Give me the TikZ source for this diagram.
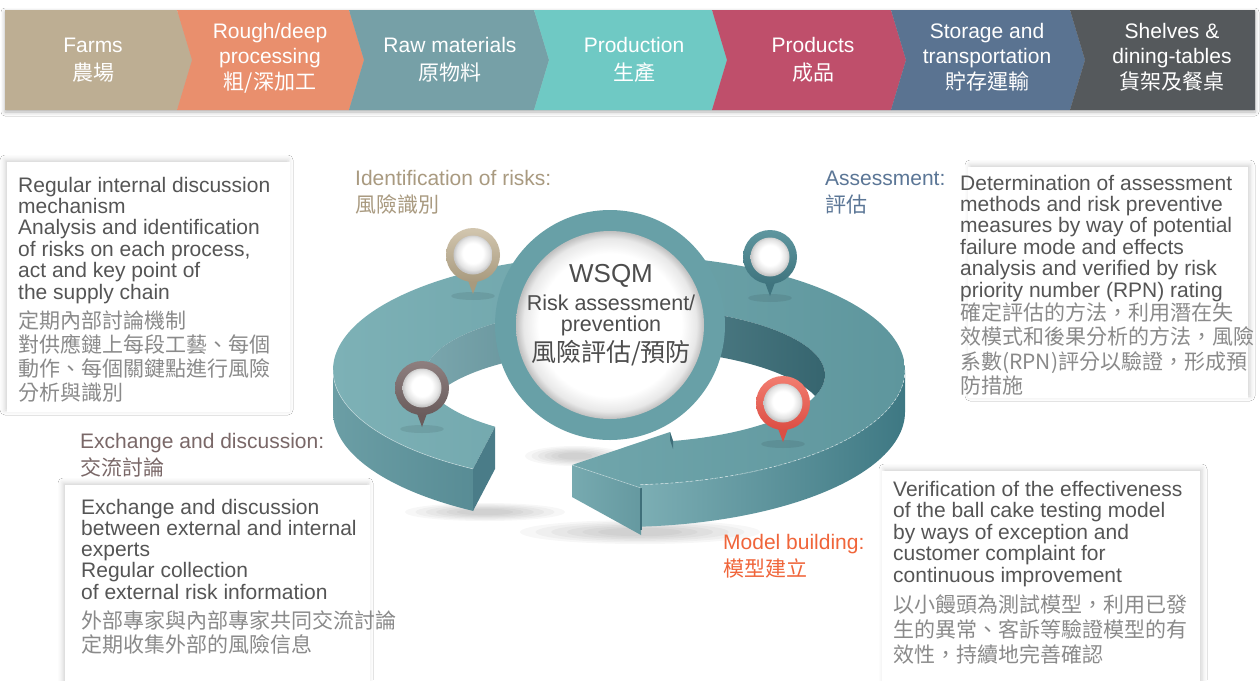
\documentclass[tikz,border=0pt]{standalone}
\usepackage{fontspec}
\setmainfont{Liberation Sans}
\newfontfamily\cjk{Noto Sans CJK TC}
\usetikzlibrary{shadows.blur}
\definecolor{cFarm}{HTML}{BDAE93}
\definecolor{cRough}{HTML}{E98F6D}
\definecolor{cRaw}{HTML}{76A0A7}
\definecolor{cProd}{HTML}{6FC9C4}
\definecolor{cProducts}{HTML}{BF4F6B}
\definecolor{cStore}{HTML}{5A7391}
\definecolor{cShelf}{HTML}{55595C}
\definecolor{entext}{HTML}{555555}
\definecolor{cntext}{HTML}{8A8A8A}
\definecolor{ctext}{HTML}{4D4D4D}
\definecolor{lblTan}{HTML}{A99A80}
\definecolor{lblBlue}{HTML}{5B7696}
\definecolor{lblBrown}{HTML}{7A6868}
\definecolor{lblRed}{HTML}{F0653A}
\definecolor{topL}{HTML}{7DB1B6}
\definecolor{topM}{HTML}{6CA3A9}
\definecolor{topR}{HTML}{5E969D}
\definecolor{wallL}{HTML}{7AA6AD}
\definecolor{wallR}{HTML}{36656F}
\definecolor{sideLa}{HTML}{6B9EA5}
\definecolor{sideLb}{HTML}{588C95}
\definecolor{sideRa}{HTML}{7CAEB4}
\definecolor{sideRb}{HTML}{3E7883}
\definecolor{tailc}{HTML}{4A7C88}
\definecolor{headL}{HTML}{77AAB0}
\definecolor{headR}{HTML}{6599A0}
\definecolor{ringteal}{HTML}{68A0A7}
\definecolor{barb}{HTML}{3F6F7A}
\definecolor{pTanA}{HTML}{D2C6AF}
\definecolor{pTanB}{HTML}{A89A7E}
\definecolor{pTealA}{HTML}{5E969F}
\definecolor{pTealB}{HTML}{3F747E}
\definecolor{pBrA}{HTML}{8E7F7F}
\definecolor{pBrB}{HTML}{6A5C5C}
\definecolor{pRedA}{HTML}{F27D70}
\definecolor{pRedB}{HTML}{DC4E44}
\pgfdeclareradialshading{pinball}{\pgfpoint{0bp}{3bp}}{color(0bp)=(white); color(13bp)=(white); color(21bp)=(gray!22); color(25bp)=(gray!45); color(50bp)=(gray!45)}
\pgfdeclareradialshading{discshade}{\pgfpoint{0bp}{0bp}}{color(0bp)=(white); color(19bp)=(white); color(23bp)=(gray!18); color(25bp)=(gray!50); color(50bp)=(gray!50)}
\newcommand\drawpin[4]{%
  \fill[black,opacity=.08] (#1,#2+41) ellipse[x radius=22pt,y radius=4pt];
  \fill[#4] (#1-7,#2+20) -- (#1+7,#2+20) -- (#1,#2+39) -- cycle;
  \shade[top color=#3,bottom color=#4] (#1,#2) circle[radius=27pt];
  \shade[shading=pinball] (#1,#2) circle[radius=19.5pt];
}
\newcommand\softshadow[4]{%
  \foreach \k in {0,...,5}{%
    \pgfmathsetmacro\rxx{#3*(1-0.13*\k)}%
    \pgfmathsetmacro\ryy{#4*(1-0.13*\k)}%
    \fill[black,opacity=0.03] (#1,#2) ellipse[x radius=\rxx pt,y radius=\ryy pt];
  }%
}
\begin{document}
\begin{tikzpicture}[x=1pt,y=-1pt,
  en/.style={anchor=base west, inner sep=0pt, text=entext, font=\fontsize{21}{22}\selectfont},
  cn/.style={anchor=base west, inner sep=0pt, text=cntext, font=\cjk\fontsize{21}{22}\selectfont},
  hd/.style={anchor=base, inner sep=0pt, text=white, font=\fontsize{21}{22}\selectfont},
  hdc/.style={anchor=base, inner sep=0pt, text=white, font=\cjk\fontsize{21}{22}\selectfont},
  lab/.style={anchor=base west, inner sep=0pt, font=\fontsize{21}{22}\selectfont},
  labc/.style={anchor=base west, inner sep=0pt, font=\cjk\fontsize{21}{22}\selectfont},
  boxL/.style={fill=white, blur shadow={shadow xshift=-2pt, shadow yshift=2pt, shadow blur radius=5pt, shadow opacity=18}},
  boxR/.style={fill=white, blur shadow={shadow xshift=2pt, shadow yshift=2pt, shadow blur radius=5pt, shadow opacity=18}},
  ctr/.style={anchor=base, inner sep=0pt, text=ctext}
]
\useasboundingbox (0,0) rectangle (1260,680);
\fill[white] (0,0) rectangle (1260,680);

% ---------- header chevrons ----------
\path[blur shadow={shadow xshift=0pt, shadow yshift=-2pt, shadow blur radius=4pt, shadow opacity=30}] (5,10) rectangle (1255,110);
\fill[cFarm] (5,10) -- (177,10) -- (192,60) -- (177,110) -- (5,110) -- cycle;
\fill[cRough] (177,10) -- (349,10) -- (364,60) -- (349,110) -- (177,110) -- (192,60) -- cycle;
\fill[cRaw] (349,10) -- (534,10) -- (549,60) -- (534,110) -- (349,110) -- (364,60) -- cycle;
\fill[cProd] (534,10) -- (712,10) -- (727,60) -- (712,110) -- (534,110) -- (549,60) -- cycle;
\fill[cProducts] (712,10) -- (891,10) -- (906,60) -- (891,110) -- (712,110) -- (727,60) -- cycle;
\fill[cStore] (891,10) -- (1070,10) -- (1085,60) -- (1070,110) -- (891,110) -- (906,60) -- cycle;
\fill[cShelf] (1070,10) -- (1255,10) -- (1255,110) -- (1070,110) -- (1085,60) -- cycle;

\node[hd] (h1a) at (93,52) {Farms};
\node[hdc] (h1b) at (93,80) {農場};
\node[hd] (h2a) at (270,38) {Rough/deep};
\node[hd] (h2b) at (270,63) {processing};
\node[hdc] (h2c) at (270,89) {粗/深加工};
\node[hd] (h3a) at (450,52) {Raw materials};
\node[hdc] (h3b) at (450,80) {原物料};
\node[hd] (h4a) at (634,52) {Production};
\node[hdc] (h4b) at (634,80) {生產};
\node[hd] (h5a) at (813,52) {Products};
\node[hdc] (h5b) at (813,80) {成品};
\node[hd] (h6a) at (987,38) {Storage and};
\node[hd] (h6b) at (987,63) {transportation};
\node[hdc] (h6c) at (987,89) {貯存運輸};
\node[hd] (h7a) at (1172,38) {Shelves \&};
\node[hd] (h7b) at (1172,63) {dining-tables};
\node[hdc] (h7c) at (1172,89) {貨架及餐桌};

% ---------- text boxes ----------
\path[boxL] (7,162) rectangle (290,412);
\path[boxR] (968,167) rectangle (1248,398);
\path[boxL] (65,485) rectangle (370,700);
\path[boxR] (882,471) rectangle (1200,700);

% ---------- floor shadows ----------
\softshadow{485}{512}{80}{9}
\softshadow{640}{532}{120}{12}
\softshadow{575}{456}{50}{10}

% ---------- ring: outer side faces ----------
\shade[left color=sideLa, right color=sideLb]
  plot[domain=120.7:180, samples=60] ({619+286*cos(\x)},{370+115*sin(\x)})
  -- plot[domain=180:120.7, samples=60] ({619+286*cos(\x)},{412+115*sin(\x)}) -- cycle;
\shade[left color=sideRa, right color=sideRb]
  plot[domain=0:85.8, samples=80] ({619+286*cos(\x)},{370+115*sin(\x)})
  -- plot[domain=85.8:0, samples=80] ({619+286*cos(\x)},{412+115*sin(\x)}) -- cycle;

% ---------- ring: top surface ----------
\shade[left color=topL, middle color=topM, right color=topR]
  plot[domain=120.7:445.8, samples=200] ({619+286*cos(\x)},{370+115*sin(\x)})
  -- (641,488) -- (572,465) -- (670,432) -- (673,441)
  -- plot[domain=436.1:130.5, samples=200] ({625+200*cos(\x)},{375+68*sin(\x)}) -- cycle;

% inner wall seen through the hole
\begin{scope}
  \clip plot[domain=0:360, samples=150] ({625+200*cos(\x)},{375+68*sin(\x)}) -- cycle;
  \shade[left color=wallL, right color=wallR]
    plot[domain=180:360, samples=100] ({625+200*cos(\x)},{375+68*sin(\x)})
    -- plot[domain=360:180, samples=100] ({625+200*cos(\x)},{417+68*sin(\x)}) -- cycle;
\end{scope}

% tail cut face
\fill[tailc] (473,469) -- (495,427) -- (495,469) -- (473,511) -- cycle;
% arrow head front face and barbs
\shade[left color=headL, right color=headR] (572,465) -- (641,488) -- (641,535) -- (572,497) -- cycle;
\draw[barb, line width=1.5pt] (641,488) -- (641,530);
\fill[barb] (670,432) -- (673,441) -- (673,449) -- (670,440) -- cycle;

% edge highlights
\draw[white, opacity=.45, line width=.6pt] plot[domain=120.7:180, samples=60] ({619+286*cos(\x)},{370+115*sin(\x)});
\draw[white, opacity=.6, line width=.6pt, dash pattern=on 3pt off 2pt] plot[domain=360:445.8, samples=80] ({619+286*cos(\x)},{370+115*sin(\x)});
\draw[white, opacity=.4, line width=.6pt] (572,465) -- (641,488);

% ---------- central disc ----------
\fill[ringteal] (610,325) circle[radius=115pt];
\shade[shading=discshade] (610,325) circle[radius=94pt];
\node[ctr, font=\fontsize{26}{26}\selectfont] (wsqm) at (611,282) {WSQM};
\node[ctr, font=\fontsize{21.5}{22}\selectfont] (risk) at (611,310) {Risk assessment/};
\node[ctr, font=\fontsize{21.5}{22}\selectfont] (prev) at (611,331) {prevention};
\node[ctr, font=\cjk\fontsize{25}{26}\selectfont] (prevc) at (611,361) {風險評估/預防};

% ---------- pins ----------
\drawpin{473}{255}{pTanA}{pTanB}
\drawpin{770}{257}{pTealA}{pTealB}
\drawpin{422}{388}{pBrA}{pBrB}
\drawpin{783}{403}{pRedA}{pRedB}

% ---------- stage labels ----------
\node[lab, text=lblTan] (lid) at (355,185) {Identification of risks:};
\node[labc, text=lblTan] (lidc) at (355,212) {風險識別};
\node[lab, text=lblBlue] (las) at (825,185) {Assessment:};
\node[labc, text=lblBlue] (lasc) at (825,212) {評估};
\node[lab, text=lblBrown] (lex) at (80,448) {Exchange and discussion:};
\node[labc, text=lblBrown] (lexc) at (80,475) {交流討論};
\node[lab, text=lblRed] (lmo) at (723,549) {Model building:};
\node[labc, text=lblRed] (lmoc) at (723,576) {模型建立};

% ---------- box texts ----------
\foreach \t [count=\i from 0] in {Regular internal discussion, mechanism, Analysis and identification, {of risks on each process,}, act and key point of, the supply chain}
  \node[en] (ba\i) at (18,{192+21.4*\i}) {\t};
\foreach \t [count=\i from 0] in {定期內部討論機制, 對供應鏈上每段工藝、每個, 動作、每個關鍵點進行風險, 分析與識別}
  \node[cn] (bac\i) at (18,{328+24.3*\i}) {\t};

\foreach \t [count=\i from 0] in {Determination of assessment, methods and risk preventive, measures by way of potential, failure mode and effects, analysis and verified by risk, priority number (RPN) rating}
  \node[en] (bb\i) at (960,{190+21.4*\i}) {\t};
\foreach \t [count=\i from 0] in {確定評估的方法，利用潛在失, 效模式和後果分析的方法，風險, 系數(RPN)評分以驗證，形成預, 防措施}
  \node[cn] (bbc\i) at (960,{320+24.5*\i}) {\t};

\foreach \t [count=\i from 0] in {Exchange and discussion, between external and internal, experts, Regular collection, of external risk information}
  \node[en] (bc\i) at (81,{514+21.3*\i}) {\t};
\foreach \t [count=\i from 0] in {外部專家與內部專家共同交流討論, 定期收集外部的風險信息}
  \node[cn] (bcc\i) at (81,{628+24.5*\i}) {\t};

\foreach \t [count=\i from 0] in {Verification of the effectiveness, of the ball cake testing model, by ways of exception and, customer complaint for, continuous improvement}
  \node[en] (bd\i) at (893,{496+21.5*\i}) {\t};
\foreach \t [count=\i from 0] in {以小饅頭為測試模型，利用已發, 生的異常、客訴等驗證模型的有, 效性，持續地完善確認}
  \node[cn] (bdc\i) at (893,{612+25*\i}) {\t};
\end{tikzpicture}
\end{document}
